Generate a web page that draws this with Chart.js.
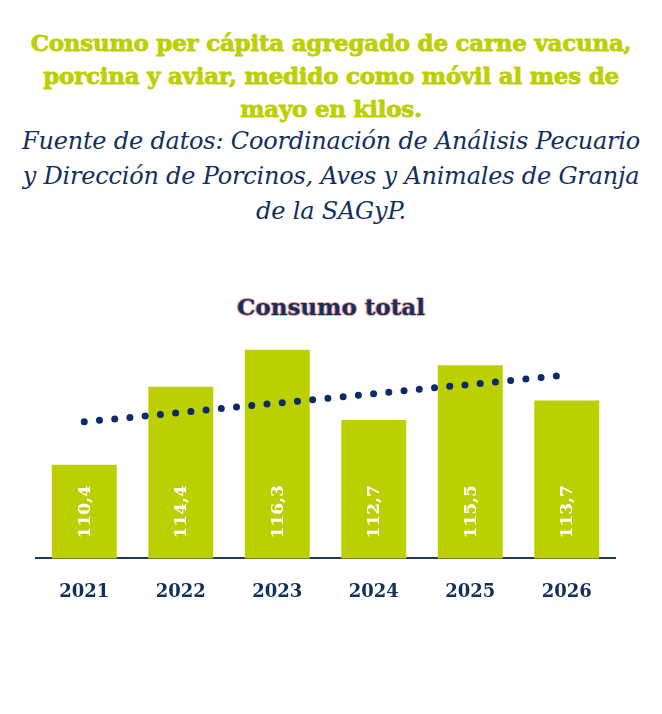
<!DOCTYPE html>
<html>
<head>
<meta charset="utf-8">
<script src="https://cdn.jsdelivr.net/npm/chart.js@4"></script>
<style>
  html, body { margin: 0; padding: 0; background: #fff; }
  body { width: 662px; height: 714px; position: relative; overflow: hidden; }
  .titulo {
    position: absolute; left: 0; top: 26px; width: 662px; text-align: center;
    font-family: "DejaVu Serif", serif; font-weight: bold; font-size: 23px;
    line-height: 33px; color: #bccf00; letter-spacing: -0.25px;
    -webkit-text-stroke: 0.8px #bccf00;
  }
  .fuente {
    position: absolute; left: 0; top: 124px; width: 662px; text-align: center;
    font-family: "DejaVu Serif", serif; font-style: italic; font-size: 24px;
    line-height: 35px; color: #12305c; letter-spacing: -0.2px;
  }
  .subtitulo {
    position: absolute; left: 0; top: 292px; width: 662px; text-align: center;
    font-family: "DejaVu Serif", serif; font-weight: bold; font-size: 23px;
    line-height: 30px; color: #12305c;
    text-shadow: 1px 0 0 #f4a0a0, -1px 0 0 #f4a0a0, 0 1px 0 #f4a0a0, 0 -1px 0 #f4a0a0;
  }
  .grafico { position: absolute; left: 0; top: 320px; width: 662px; height: 325px; }
</style>
</head>
<body>
<div class="titulo">Consumo per cápita agregado de carne vacuna,<br>porcina y aviar, medido como móvil al mes de<br>mayo en kilos.</div>
<div class="fuente">Fuente de datos: Coordinación de Análisis Pecuario<br>y Dirección de Porcinos, Aves y Animales de Granja<br>de la SAGyP.</div>
<div class="subtitulo">Consumo total</div>
<div class="grafico"><canvas id="consumo"></canvas></div>

<script>
    "use strict";

    // Datos
    var anios = ["2021", "2022", "2023", "2024", "2025", "2026"];
    var consumo = [110.4, 114.4, 116.3, 112.7, 115.5, 113.7];
    var tendencia = [112.6, null, null, null, null, 115.0];

    var verde = "#bccf00";
    var azul = "#12305c";

    // Etiquetas rotadas dentro de las barras
    var etiquetasBarras = {
        id: "etiquetasBarras",
        afterDraw: function (chart) {
            var ctx = chart.ctx;
            var escalaX = chart.scales.x;
            var base = chart.scales.y.getPixelForValue(chart.scales.y.min);
            ctx.save();
            ctx.fillStyle = "#ffffff";
            ctx.font = "bold 17px 'DejaVu Serif', serif";
            ctx.textAlign = "left";
            ctx.textBaseline = "middle";
            for (var i = 0; i < consumo.length; i++) {
                ctx.save();
                ctx.translate(escalaX.getPixelForValue(i), base - 20);
                ctx.rotate(-Math.PI / 2);
                ctx.fillText(consumo[i].toFixed(1).replace(".", ","), 0, 1);
                ctx.restore();
            }
            ctx.restore();
        }
    };

    var ctx1 = document.getElementById("consumo").getContext("2d");
    var myChart1 = new Chart(ctx1, {
        data: {
            labels: anios,
            datasets: [{
                    type: "line",
                    label: "Tendencia",
                    data: tendencia,
                    spanGaps: true,
                    borderColor: "#0a2a6b",
                    borderWidth: 7,
                    borderDash: [0, 15.3],
                    borderCapStyle: "round",
                    pointRadius: 0,
                    fill: false,
                    order: 0
                },
                {
                    type: "bar",
                    label: "Consumo total",
                    data: consumo,
                    backgroundColor: verde,
                    categoryPercentage: 1,
                    barPercentage: 0.673,
                    order: 1
                }
            ]
        },
        options: {
            responsive: true,
            maintainAspectRatio: false,
            animation: false,
            layout: { padding: { top: 16, left: 36, right: 47, bottom: 19 } },
            plugins: {
                legend: { display: false },
                tooltip: { enabled: false }
            },
            scales: {
                x: {
                    grid: { display: false, drawTicks: false },
                    border: { display: true, color: "#1d3a5a", width: 2 },
                    ticks: {
                        color: azul,
                        padding: 23,
                        font: { family: "'DejaVu Serif'", size: 18, weight: "bold" }
                    }
                },
                y: {
                    display: false,
                    min: 105.6,
                    max: 117
                }
            }
        },
        plugins: [etiquetasBarras]
    });
</script>
</body>
</html>
